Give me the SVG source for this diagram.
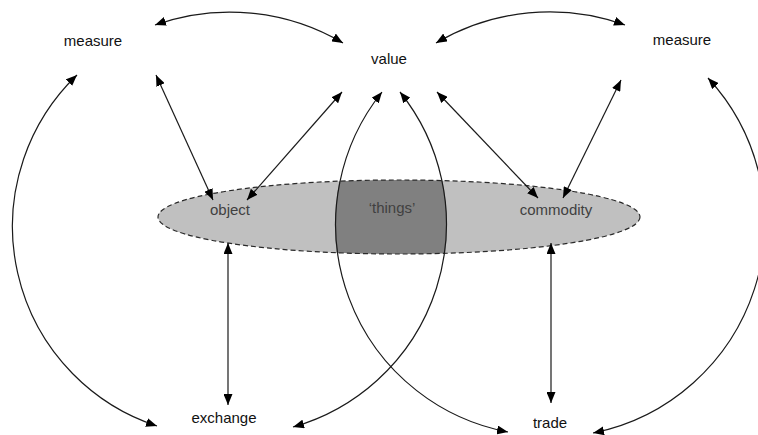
<svg xmlns="http://www.w3.org/2000/svg" width="758" height="435" viewBox="0 0 758 435">
  <style>
    .lbl { font-family: "Liberation Sans", Arial, sans-serif; font-size: 15px; fill: #111; text-anchor: middle; }
    .in { fill: #404040; }
    .c { fill: none; stroke: #1a1a1a; stroke-width: 1.2; marker-start: url(#ah); marker-end: url(#ah); }
  </style>
  <defs>
    <marker id="ah" viewBox="0 0 11 9" refX="11" refY="4.5" markerWidth="11" markerHeight="9" markerUnits="userSpaceOnUse" orient="auto-start-reverse">
      <path d="M0,0 L11,4.5 L0,9 z" fill="#000"/>
    </marker>
    <clipPath id="clipE"><ellipse cx="399" cy="217" rx="241" ry="37"/></clipPath>
    <clipPath id="clipC1"><circle cx="546.4" cy="225" r="211.5"/></clipPath>
  </defs>
  <rect width="758" height="435" fill="#fff"/>

  <g id="things-set">
    <ellipse cx="399" cy="217" rx="241" ry="37" fill="#c0c0c0"/>
    <g clip-path="url(#clipE)">
      <g clip-path="url(#clipC1)">
        <circle cx="236" cy="225" r="211" fill="#808080"/>
      </g>
    </g>
    <ellipse cx="399" cy="217" rx="241" ry="37" fill="none" stroke="#2a2a2a" stroke-width="1.2" stroke-dasharray="5 3"/>
  </g>

  <g id="connectors">
    <path class="c" d="M155,25 A223,223 0 0 1 343,43"/>
    <path class="c" d="M436,43 A223,223 0 0 1 625,25"/>
    <path class="c" d="M156,75 L213,200"/>
    <path class="c" d="M342,92 L247,200"/>
    <path class="c" d="M437,92 L538,198"/>
    <path class="c" d="M621,80 L563,198"/>
    <path class="c" d="M228,243 L228,405"/>
    <path class="c" d="M551,243 L551,403"/>
    <path class="c" d="M382,92 A211.5,211.5 0 0 0 508,432"/>
    <path class="c" d="M400,92 A211,211 0 0 1 293,427"/>
    <path class="c" d="M77,75 A210,210 0 0 0 157,426"/>
    <path class="c" d="M708,78 A214,214 0 0 1 593,433"/>
  </g>

  <g id="measure-left"><text class="lbl" x="93" y="46">measure</text></g>
  <g id="value"><text class="lbl" x="389" y="64">value</text></g>
  <g id="measure-right"><text class="lbl" x="682" y="45">measure</text></g>
  <g id="object"><text class="lbl in" x="230" y="215">object</text></g>
  <g id="things"><text class="lbl in" x="392" y="213">‘things’</text></g>
  <g id="commodity"><text class="lbl in" x="556" y="215">commodity</text></g>
  <g id="exchange"><text class="lbl" x="224" y="423">exchange</text></g>
  <g id="trade"><text class="lbl" x="550" y="428">trade</text></g>
</svg>
